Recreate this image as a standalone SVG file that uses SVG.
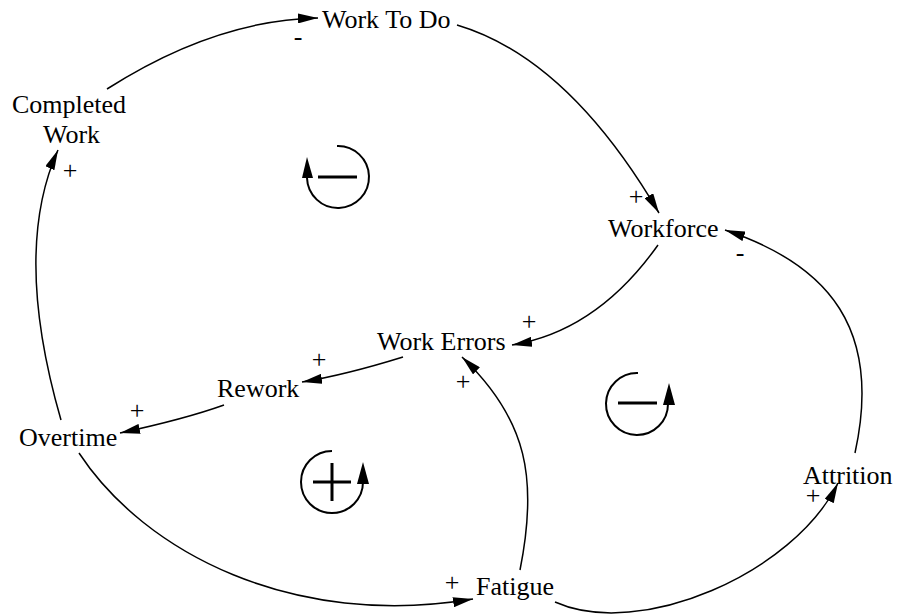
<svg xmlns="http://www.w3.org/2000/svg" width="897" height="615" viewBox="0 0 897 615">
  <defs>
    <style>
      .label { font-family: "Liberation Serif", "Times New Roman", serif; font-size: 26px; fill: #000; }
      .sign { font-family: "Liberation Serif", "Times New Roman", serif; font-size: 26px; fill: #000; text-anchor: middle; }
      .link { fill: none; stroke: #000; stroke-width: 1.5; marker-end: url(#arrow); }
      .loop { fill: none; stroke: #000; stroke-width: 2; }
      .bar { stroke: #000; stroke-width: 3; }
      .head { fill: #000; }
    </style>
    <marker id="arrow" markerWidth="20" markerHeight="10" refX="20" refY="5" orient="auto" markerUnits="userSpaceOnUse">
      <path d="M0,0 L20,5 L0,10 z" fill="#000"/>
    </marker>
  </defs>
  <rect width="897" height="615" fill="#fff"/>

  <!-- causal links -->
  <g id="connectors">
    <path class="link" d="M107,89 Q215,20 318,18"/>
    <path class="link" d="M457,25 Q568,58 659,213"/>
    <path class="link" d="M658,245 Q597,331 512,345"/>
    <path class="link" d="M855,453 C882,330 830,265 725,230"/>
    <path class="link" d="M403,357 Q345,375 302,382"/>
    <path class="link" d="M224,405 Q185,419 120,433"/>
    <path class="link" d="M61,420 C35,330 22,230 58,150"/>
    <path class="link" d="M79,453 C145,553 293,629 473,599"/>
    <path class="link" d="M520,570 C538,480 528,420 462,357"/>
    <path class="link" d="M555,602 C640,640 794,573 838,483"/>

    <!-- polarity signs -->
    <text class="sign" x="298" y="45">-</text>
    <text class="sign" x="70" y="179">+</text>
    <text class="sign" x="636" y="205">+</text>
    <text class="sign" x="740" y="261">-</text>
    <text class="sign" x="529" y="330">+</text>
    <text class="sign" x="463" y="390">+</text>
    <text class="sign" x="319" y="368">+</text>
    <text class="sign" x="137" y="419">+</text>
    <text class="sign" x="452" y="591">+</text>
    <text class="sign" x="813" y="504">+</text>
  </g>

  <!-- variables -->
  <g id="work-to-do"><text class="label" x="322" y="28">Work To Do</text></g>
  <g id="completed-work">
    <text class="label" x="12" y="113">Completed</text>
    <text class="label" x="43" y="143">Work</text>
  </g>
  <g id="workforce"><text class="label" x="608" y="237">Workforce</text></g>
  <g id="work-errors"><text class="label" x="377" y="350">Work Errors</text></g>
  <g id="rework"><text class="label" x="217" y="397">Rework</text></g>
  <g id="overtime"><text class="label" x="19" y="446">Overtime</text></g>
  <g id="fatigue"><text class="label" x="476" y="595">Fatigue</text></g>
  <g id="attrition"><text class="label" x="803" y="484">Attrition</text></g>

  <!-- loop polarity symbols -->
  <g id="loop-balancing-1">
    <path class="loop" d="M337,146 A31,31 0 1 1 307,178"/>
    <polygon class="head" points="307,157 302,178 313,178"/>
    <line class="bar" x1="318" y1="177" x2="357" y2="177"/>
  </g>
  <g id="loop-balancing-2">
    <path class="loop" d="M638,373 A31,31 0 1 0 668,404"/>
    <polygon class="head" points="669,383 663,405 675,405"/>
    <line class="bar" x1="618" y1="403" x2="657" y2="403"/>
  </g>
  <g id="loop-reinforcing">
    <path class="loop" d="M332,451 A31,31 0 1 0 363,482"/>
    <polygon class="head" points="363,462 357,484 369,484"/>
    <line class="bar" x1="313" y1="482" x2="351" y2="482"/>
    <line class="bar" x1="332" y1="463" x2="332" y2="501"/>
  </g>
</svg>
